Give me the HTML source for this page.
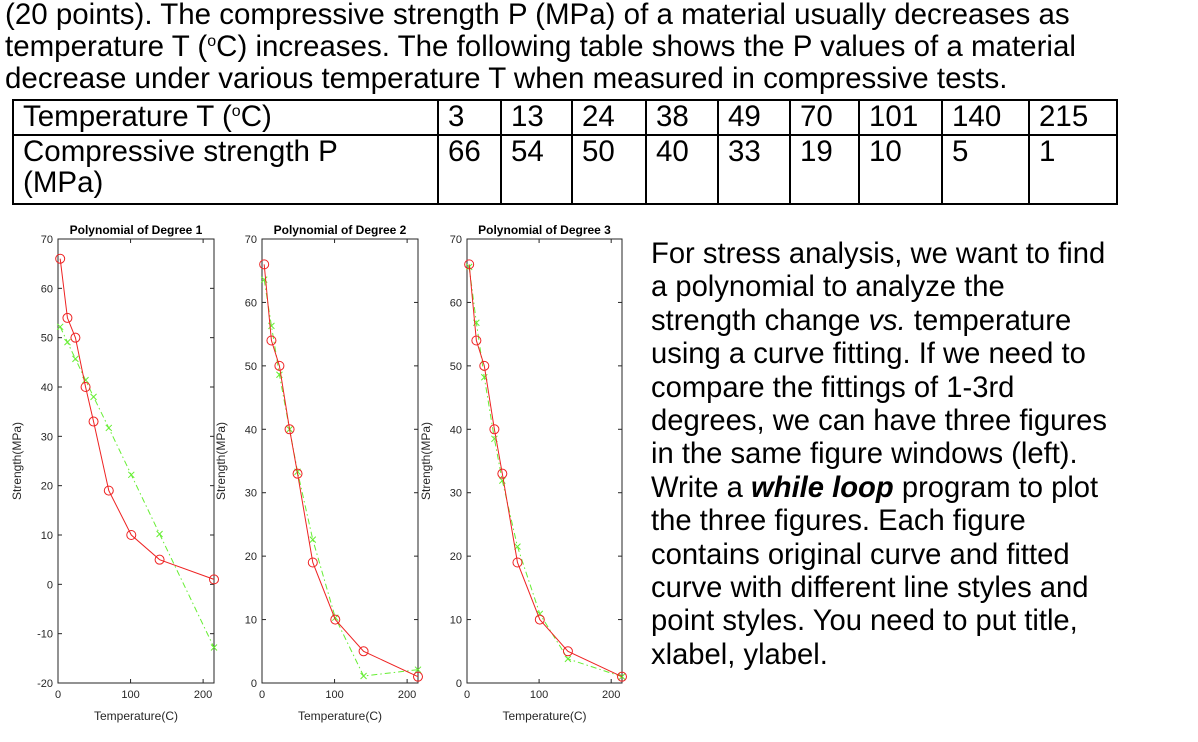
<!DOCTYPE html>
<html><head><meta charset="utf-8"><style>
body{margin:0;width:1198px;height:742px;background:#fff;position:relative;overflow:hidden;font-family:"Liberation Sans",Arial,sans-serif;color:#000}
.intro{position:absolute;left:5px;top:-1px;font-size:29.5px;line-height:32px;white-space:nowrap}
table{position:absolute;left:12px;top:99px;border-collapse:collapse;font-size:29.5px;table-layout:fixed}
td{border:2px solid #000;padding:0 0 0 9px;vertical-align:top;line-height:31px;white-space:nowrap;overflow:hidden}
.desc{position:absolute;left:651px;top:238px;font-size:29.2px;line-height:33.4px;white-space:nowrap}
sup{font-size:16px;vertical-align:10px;line-height:0}
svg{position:absolute;left:0;top:0}
</style></head><body>
<div class="intro">(20 points). The compressive strength P (MPa) of a material usually decreases as<br>temperature T (<sup>o</sup>C) increases. The following table shows the P values of a material<br>decrease under various temperature T when measured in compressive tests.</div>
<table>
<tr style="height:35px"><td style="width:414px">Temperature T (<sup>o</sup>C)</td><td style="width:52px">3</td><td style="width:60px">13</td><td style="width:63px">24</td><td style="width:61px">38</td><td style="width:61px">49</td><td style="width:58px">70</td><td style="width:72px">101</td><td style="width:76px">140</td><td style="width:77px">215</td></tr>
<tr style="height:69px"><td>Compressive strength P<br>(MPa)</td><td>66</td><td>54</td><td>50</td><td>40</td><td>33</td><td>19</td><td>10</td><td>5</td><td>1</td></tr>
</table>
<div class="desc">For stress analysis, we want to find<br>a polynomial to analyze the<br>strength change <i>vs.</i> temperature<br>using a curve fitting. If we need to<br>compare the fittings of 1-3rd<br>degrees, we can have three figures<br>in the same figure windows (left).<br>Write a <b><i>while loop</i></b> program to plot<br>the three figures. Each figure<br>contains original curve and fitted<br>curve with different line styles and<br>point styles. You need to put title,<br>xlabel, ylabel.</div>
<svg id="charts" width="1198" height="742"></svg>
<script>
const temps=[3,13,24,38,49,70,101,140,215];
const strength=[66,54,50,40,33,19,10,5,1];
const fit1=[52.2,49.1,45.7,41.4,38.0,31.7,22.2,10.2,-12.8];
const fit2=[63.6,56.3,48.6,40.0,33.3,22.6,10.3,1.1,2.1];
const fit3=[65.6,56.8,48.2,38.5,31.9,21.5,10.9,3.8,1.0];
const titles=["Polynomial of Degree 1","Polynomial of Degree 2","Polynomial of Degree 3"];
const yTicks1=[-20,-10,0,10,20,30,40,50,60,70];
const yTicks23=[0,10,20,30,40,50,60,70];
const xTicks=[0,100,200];
(function(){
const NS="http://www.w3.org/2000/svg";
const svg=document.getElementById('charts');
function mk(tag,attrs,parent){const e=document.createElementNS(NS,tag);for(const k in attrs)e.setAttribute(k,attrs[k]);(parent||svg).appendChild(e);return e;}
const panels=[{left:58,right:214,fit:fit1,yMin:-20,ticks:yTicks1},{left:262,right:418,fit:fit2,yMin:0,ticks:yTicks23},{left:467,right:622,fit:fit3,yMin:0,ticks:yTicks23}];
const axTop=239,axBot=683,xMax=215,yMax=70;
panels.forEach((p,i)=>{
  const g=mk('g',{});
  
  
  const sx=v=>p.left+(v/xMax)*(p.right-p.left);
  const sy=v=>axBot-(v-p.yMin)/(yMax-p.yMin)*(axBot-axTop);
  const box=mk('rect',{x:p.left,y:axTop,width:p.right-p.left,height:axBot-axTop,fill:'none',stroke:'#262626','stroke-width':1},g);
  
  
  p.ticks.forEach(t=>{
    const y=sy(t);
    mk('line',{x1:p.left,x2:p.left+4,y1:y,y2:y,stroke:'#262626'},g);
    mk('line',{x1:p.right,x2:p.right-4,y1:y,y2:y,stroke:'#262626'},g);
    const tx=mk('text',{x:p.left-5,y:y+4,'text-anchor':'end','font-size':11,fill:'#262626'},g);
    tx.textContent=t;
    
    
  });
  xTicks.forEach(t=>{
    const x=sx(t);
    mk('line',{x1:x,x2:x,y1:axBot,y2:axBot-4,stroke:'#262626'},g);
    mk('line',{x1:x,x2:x,y1:axTop,y2:axTop+4,stroke:'#262626'},g);
    const tx=mk('text',{x:x,y:axBot+15,'text-anchor':'middle','font-size':11,fill:'#262626'},g);
    tx.textContent=t;
    
    
  });
  const ti=mk('text',{x:(p.left+p.right)/2,y:axTop-5,'text-anchor':'middle','font-size':12,'font-weight':'bold'},g);
  ti.textContent=titles[i];
  
  
  const xl=mk('text',{x:(p.left+p.right)/2,y:axBot+37,'text-anchor':'middle','font-size':12,fill:'#262626'},g);
  xl.textContent='Temperature(C)';
  
  
  const yx=p.left-37,yy=(axTop+axBot)/2;
  const yl=mk('text',{x:yx,y:yy,'text-anchor':'middle','font-size':12,fill:'#262626',transform:`rotate(-90 ${yx} ${yy})`},g);
  yl.textContent='Strength(MPa)';
  
  
  const fl=mk('polyline',{points:temps.map((t,k)=>sx(t)+','+sy(p.fit[k])).join(' '),fill:'none',stroke:'#66ee33','stroke-width':1,'stroke-dasharray':'6 3 1.5 3'},g);
  
  
  temps.forEach((t,k)=>{
    const x=sx(t),y=sy(p.fit[k]);
    const m=mk('path',{d:`M${x-3} ${y-3}L${x+3} ${y+3}M${x-3} ${y+3}L${x+3} ${y-3}`,stroke:'#66ee33','stroke-width':1},g);
    
    
  });
  const ol=mk('polyline',{points:temps.map((t,k)=>sx(t)+','+sy(strength[k])).join(' '),fill:'none',stroke:'#ee2222','stroke-width':1},g);
  
  
  temps.forEach((t,k)=>{
    const c=mk('circle',{cx:sx(t),cy:sy(strength[k]),r:4.5,fill:'none',stroke:'#ee2222','stroke-width':1},g);
    
    
  });
});
})();
</script>
</body></html>
